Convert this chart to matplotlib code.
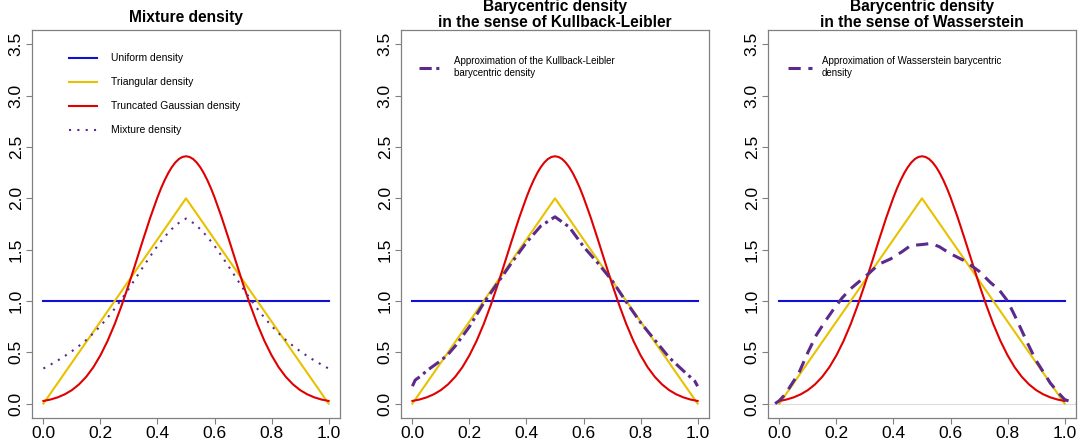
import numpy as np
import matplotlib
matplotlib.use("Agg")
from matplotlib import pyplot as plt

plt.rcParams['font.family'] = ['Liberation Sans', 'DejaVu Sans']

# common grid for the mixture density
x_grid = np.linspace(0, 1, 41)

unif_x = [0.0, 1.0]
unif_y = [1.0, 1.0]

tri_x = [0.0, 0.5, 1.0]
tri_y = [0.0, 2.0, 0.0]

gauss_x = [0.0, 0.025, 0.05, 0.075, 0.1, 0.125, 0.15, 0.175, 0.2, 0.225, 0.25,
           0.275, 0.3, 0.325, 0.35, 0.375, 0.4, 0.4125, 0.425, 0.4375, 0.45,
           0.4625, 0.475, 0.4875, 0.5, 0.5125, 0.525, 0.5375, 0.55, 0.5625,
           0.575, 0.5875, 0.6, 0.625, 0.65, 0.675, 0.7, 0.725, 0.75, 0.775,
           0.8, 0.825, 0.85, 0.875, 0.9, 0.925, 0.95, 0.975, 1.0]
gauss_y = [0.026, 0.040, 0.061, 0.091, 0.132, 0.188, 0.261, 0.354, 0.471, 0.611,
           0.775, 0.962, 1.166, 1.383, 1.602, 1.815, 2.010, 2.098, 2.176, 2.245,
           2.303, 2.349, 2.383, 2.403, 2.410, 2.403, 2.383, 2.349, 2.303, 2.245,
           2.176, 2.098, 2.010, 1.815, 1.602, 1.383, 1.166, 0.962, 0.775, 0.611,
           0.471, 0.354, 0.261, 0.188, 0.132, 0.091, 0.061, 0.040, 0.026]

mix_y = [0.342, 0.380, 0.420, 0.464, 0.511, 0.563, 0.620, 0.685, 0.757, 0.837,
         0.925, 1.021, 1.122, 1.228, 1.334, 1.438, 1.537, 1.625, 1.701, 1.761,
         1.803,
         1.761, 1.701, 1.625, 1.537, 1.438, 1.334, 1.228, 1.122, 1.021, 0.925,
         0.837, 0.757, 0.685, 0.620, 0.563, 0.511, 0.464, 0.420, 0.380, 0.342]

kl_x = [0.0, 0.01, 0.03, 0.05, 0.075, 0.1, 0.125, 0.15, 0.2, 0.25, 0.3, 0.35,
        0.4, 0.45, 0.5, 0.55, 0.6, 0.65, 0.7, 0.75, 0.8, 0.85, 0.9, 0.95,
        0.97, 0.99, 1.0]
kl_y = [0.17, 0.23, 0.27, 0.32, 0.37, 0.42, 0.48, 0.56, 0.75, 0.98, 1.18, 1.38,
        1.57, 1.73, 1.82, 1.72, 1.53, 1.37, 1.20, 0.99, 0.79, 0.62, 0.45, 0.32,
        0.27, 0.22, 0.17]

w_x = [-0.015, 0.0, 0.02, 0.05, 0.07, 0.1, 0.13, 0.16, 0.19, 0.22, 0.25, 0.28,
       0.31, 0.35, 0.39, 0.43, 0.46, 0.5, 0.53, 0.56, 0.6, 0.65, 0.7, 0.74,
       0.77, 0.8, 0.83, 0.87, 0.9, 0.95, 0.98, 1.0, 1.02, 1.04, 1.06]
w_y = [0.0, 0.03, 0.09, 0.22, 0.31, 0.50, 0.67, 0.80, 0.92, 1.03, 1.12, 1.19,
       1.26, 1.36, 1.41, 1.48, 1.54, 1.55, 1.56, 1.53, 1.46, 1.39, 1.29, 1.18,
       1.11, 1.0, 0.83, 0.59, 0.42, 0.20, 0.10, 0.04, 0.02, 0.01, 0.0]

x_ticks = [0.0, 0.2, 0.4, 0.6, 0.8, 1.0]
y_ticks = [0.0, 0.5, 1.0, 1.5, 2.0, 2.5, 3.0, 3.5]

titles = ['Mixture density',
          'Barycentric density\nin the sense of Kullback-Leibler',
          'Barycentric density\nin the sense of Wasserstein']
title_pads = [6, 1.5, 1.5]

c_blue, c_gold, c_red, c_purple = '#1010d0', '#e8c200', '#e00000', '#5b2a8c'
grey = '#808080'

fig = plt.figure(figsize=(10.89, 4.43), dpi=100)
lefts = [32, 401, 768]
axes = [fig.add_axes([l / 1089, 1 - 418 / 443, 308 / 1089, 388 / 443]) for l in lefts]

for ax, t, p in zip(axes, titles, title_pads):
    ax.plot(unif_x, unif_y, color=c_blue, lw=1.5, label='Uniform density')
    ax.plot(tri_x, tri_y, color=c_gold, lw=1.5, label='Triangular density')
    ax.plot(gauss_x, gauss_y, color=c_red, lw=1.5, label='Truncated Gaussian density')
    ax.set_xlim(-0.04, 1.04)
    ax.set_ylim(-0.14, 3.64)
    ax.set_xticks(x_ticks)
    ax.set_xticklabels(['%.1f' % v for v in x_ticks])
    ax.set_yticks(y_ticks)
    ax.set_yticklabels(['%.1f' % v for v in y_ticks], rotation=90, va='center')
    ax.tick_params(labelsize=12.5, length=4, color=grey, width=0.8, pad=2)
    for s in ax.spines.values():
        s.set_color(grey)
        s.set_linewidth(0.9)
    ax.set_title(t, fontsize=11.2, fontweight='bold', pad=p, linespacing=1.05)

# panel 1: mixture
ax = axes[0]
ax.plot(x_grid, mix_y, color=c_purple, lw=1.5, ls=(0, (1, 3)), label='Mixture density')
ax.legend(loc='upper left', bbox_to_anchor=(0.12, 0.94), frameon=False, fontsize=7.5,
          borderpad=0, borderaxespad=0, handlelength=2.7, handletextpad=1.3,
          labelspacing=1.35)

# panel 2: Kullback-Leibler barycenter
ax = axes[1]
kl_line, = ax.plot(kl_x, kl_y, color=c_purple, lw=2.2, ls=(0, (4, 1.5, 1, 1.5)))
ax.legend([kl_line], ['Approximation of the Kullback-Leibler\nbarycentric density'],
          loc='upper left', bbox_to_anchor=(0.06, 0.932), frameon=False, fontsize=7,
          borderpad=0, borderaxespad=0, handlelength=2.0, handletextpad=1.6)

# panel 3: Wasserstein barycenter
ax = axes[2]
ax.axhline(0, color='#dddddd', lw=0.8, zorder=0)
w_line, = ax.plot(w_x, w_y, color=c_purple, lw=2.2, ls=(0, (4, 2.5)))
ax.legend([w_line], ['Approximation of Wasserstein barycentric\ndensity'],
          loc='upper left', bbox_to_anchor=(0.065, 0.932), frameon=False, fontsize=7,
          borderpad=0, borderaxespad=0, handlelength=2.5, handletextpad=1.0)

fig.savefig('out.png', dpi=100)
